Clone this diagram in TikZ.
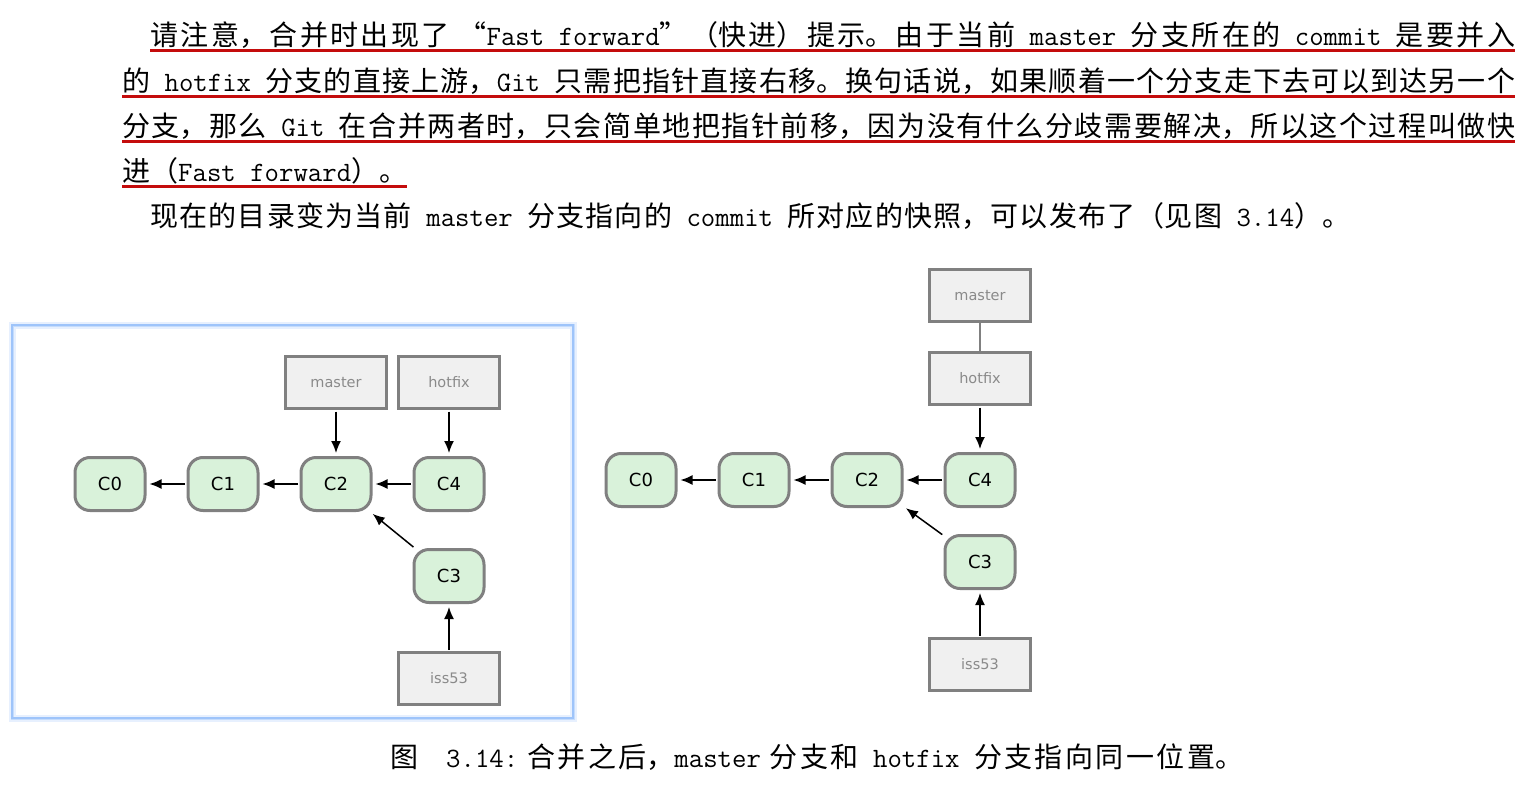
\documentclass[tikz,border=0pt]{standalone}
\usepackage{fontspec}
\setmainfont{Noto Sans CJK SC}
\newfontfamily\guifont{DejaVu Sans}
\usetikzlibrary{arrows.meta,positioning}

\XeTeXlinebreaklocale "zh"
\XeTeXlinebreakskip=0pt plus 3pt minus 0.5pt

\definecolor{commitfill}{RGB}{217,242,218}
\definecolor{boxgray}{RGB}{128,128,128}
\definecolor{branchfill}{RGB}{240,240,240}
\definecolor{labelgray}{RGB}{138,138,138}
\definecolor{markred}{RGB}{196,12,12}
\definecolor{frameblue}{RGB}{158,196,250}

% latin word with a space on each side
\newcommand\mono[1]{\texttt{\ #1\ }}

\begin{document}
\begin{tikzpicture}[
    x=1pt, y=-1pt,
    node distance=40pt,
    textline/.style={anchor=base west, inner sep=0pt, font=\fontsize{28}{34}\selectfont},
    para/.style={textline, text width=#1, align=justify},
    uline/.style={draw=markred, line width=3pt},
    commit/.style={rectangle, rounded corners=15pt, minimum width=70pt, minimum height=53pt, draw=boxgray, fill=commitfill, line width=3pt, font=\guifont\fontsize{18}{18}\selectfont},
    branch/.style={rectangle, minimum width=101pt, minimum height=52pt, draw=boxgray, fill=branchfill, line width=3pt, text=labelgray, font=\guifont\fontsize{14.5}{14.5}\selectfont},
    arrow/.style={line width=1.5pt, -{Latex[length=12pt,width=10pt]}, shorten <=1.5pt, shorten >=3pt},
    link/.style={line width=1.6pt, draw=boxgray}
]
\useasboundingbox (0,0) rectangle (1528,800);
\fill[white] (0,0) rectangle (1528,800);

% Text
\node[para=1365pt] (t1) at (150,46) {请注意，合并时出现了 “\texttt{Fast forward}”（快进）提示。由于当前\mono{master}分支所在的\mono{commit}是要并入\parfillskip=0pt\par};
\node[para=1393pt] (t2) at (122,91) {的\mono{hotfix}分支的直接上游，\texttt{Git\ }只需把指针直接右移。换句话说，如果顺着一个分支走下去可以到达另一个\parfillskip=0pt\par};
\node[para=1393pt] (t3) at (122,136) {分支，那么\mono{Git}在合并两者时，只会简单地把指针前移，因为没有什么分歧需要解决，所以这个过程叫做快\parfillskip=0pt\par};
\node[textline] (t4) at (122,181) {进（\texttt{Fast forward}）。};
\node[para=1200pt] (t5) at (150,226) {现在的目录变为当前\mono{master}分支指向的\mono{commit}所对应的快照，可以发布了（见图\texttt{\ 3.14}）。\parfillskip=0pt\par};

% Underlines
\draw[uline] ([yshift=-5pt]t1.base west) -- ([yshift=-5pt]t1.base east);
\draw[uline] ([yshift=-5pt]t2.base west) -- ([yshift=-5pt]t2.base east);
\draw[uline] ([yshift=-5pt]t3.base west) -- ([yshift=-5pt]t3.base east);
\draw[uline] ([yshift=-5pt]t4.base west) -- ([yshift=-5pt]t4.base east);

% Left frame
\draw[line width=7pt, frameblue!25] (12,325) rectangle (573,718);
\draw[line width=3pt, frameblue!60] (12,325) rectangle (573,718);
\draw[line width=1.2pt, frameblue] (12,325) rectangle (573,718);

% Left: before merge
\node[commit] (lc0) at (110,484) {C0};
\node[commit, right=of lc0] (lc1) {C1};
\node[commit, right=of lc1] (lc2) {C2};
\node[commit, right=of lc2] (lc4) {C4};
\node[commit, below=36pt of lc4] (lc3) {C3};
\node[branch, above=46pt of lc2] (lmaster) {master};
\node[branch, above=46pt of lc4] (lhotfix) {hotfix};
\node[branch, below=47pt of lc3] (liss) {iss53};

\draw[arrow] (lc1) -- (lc0);
\draw[arrow] (lc2) -- (lc1);
\draw[arrow] (lc4) -- (lc2);
\draw[arrow] (lc3) -- (lc2);
\draw[arrow] (lmaster) -- (lc2);
\draw[arrow] (lhotfix) -- (lc4);
\draw[arrow] (liss) -- (lc3);

% Right: after fast forward
\node[commit] (rc0) at (641,480) {C0};
\node[commit, right=of rc0] (rc1) {C1};
\node[commit, right=of rc1] (rc2) {C2};
\node[commit, right=of rc2] (rc4) {C4};
\node[commit, below=26pt of rc4] (rc3) {C3};
\node[branch, above=46pt of rc4] (rhotfix) {hotfix};
\node[branch, above=28pt of rhotfix] (rmaster) {master};
\node[branch, below=47pt of rc3] (riss) {iss53};

\draw[arrow] (rc1) -- (rc0);
\draw[arrow] (rc2) -- (rc1);
\draw[arrow] (rc4) -- (rc2);
\draw[arrow] (rc3) -- (rc2);
\draw[link] (rmaster) -- (rhotfix);
\draw[arrow] (rhotfix) -- (rc4);
\draw[arrow] (riss) -- (rc3);

% Caption
\node[para=853pt, font=\fontsize{28}{32}\selectfont] (cap) at (390,767) {图\quad\texttt{3.14:}\ 合并之后，\texttt{master}\ 分支和\mono{hotfix}分支指向同一位置。\parfillskip=0pt\par};

\end{tikzpicture}
\end{document}
